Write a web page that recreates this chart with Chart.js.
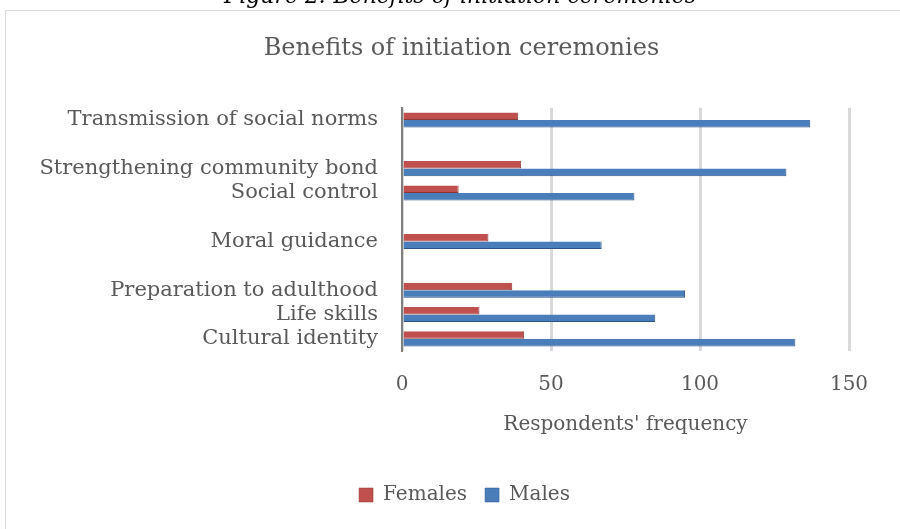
<!DOCTYPE html>
<html>
<head>
<meta charset="utf-8">
<script src="https://cdn.jsdelivr.net/npm/chart.js@4.4.0/dist/chart.umd.min.js"></script>
<style>
  body { margin: 0; background: #fff; overflow: hidden; }
  #wrap { position: relative; width: 900px; height: 529px; }
  #caption {
    position: absolute; top: -17px; left: 0; width: 920px; text-align: center;
    font-family: "DejaVu Serif", serif; font-style: italic; font-size: 22px; color: #000;
  }
  canvas { position: absolute; left: 0; top: 0; }
</style>
</head>
<body>
<div id="wrap">
  <canvas id="chart" width="900" height="529"></canvas>
  <div id="caption">Figure 2: Benefits of initiation ceremonies</div>
</div>
<script>
// categories top to bottom, blank slots are empty rows in the original sheet
var categories = ['Transmission of social norms', '', 'Strengthening community bond', 'Social control', '',
    'Moral guidance', '', 'Preparation to adulthood', 'Life skills', 'Cultural identity'];
var females = [39, null, 40, 19, null, 29, null, 37, 26, 41];
var males = [137, null, 129, 78, null, 67, null, 95, 85, 132];
var xTicks = [0, 50, 100, 150];

var fontFamily = '"DejaVu Serif", serif';
var textColor = '#595959';

var boxPlugin = {
    id: 'box',
    beforeDraw: function(chart) {
        var ctx = chart.ctx;
        ctx.save();
        ctx.fillStyle = '#ffffff';
        ctx.fillRect(0, 0, chart.width, chart.height);
        ctx.strokeStyle = '#d9d9d9';
        ctx.lineWidth = 1;
        ctx.strokeRect(5.5, 10.5, 900, 530);
        ctx.restore();
    }
};

// title and legend sit centred on the whole box, not on the plot
var shiftPlugin = {
    id: 'shift',
    afterLayout: function(chart) {
        if (chart.titleBlock) {
            chart.titleBlock.left += 37;
            chart.titleBlock.right += 37;
        }
        if (chart.legend) {
            chart.legend.left += 40;
            chart.legend.right += 40;
        }
    }
};

var data = {
    labels: categories,
    datasets: [{
        label: 'Females',
        data: females,
        backgroundColor: '#c0504d',
        borderColor: '#8c3836',
        borderWidth: { right: 1, top: 0, bottom: 1, left: 0 },
        categoryPercentage: 0.62,
        barPercentage: 1.0
    }, {
        label: 'Males',
        data: males,
        backgroundColor: '#4a7ebb',
        borderColor: '#2c5382',
        borderWidth: { right: 1, top: 0, bottom: 1, left: 0 },
        categoryPercentage: 0.62,
        barPercentage: 1.0
    }]
};

var options = {
    indexAxis: 'y',
    responsive: false,
    animation: false,
    layout: {
        padding: { left: 0, right: 51, top: 10, bottom: 14 }
    },
    plugins: {
        title: {
            display: true,
            text: 'Benefits of initiation ceremonies',
            color: textColor,
            font: { family: fontFamily, size: 24, weight: 'normal' },
            padding: { top: 24, bottom: 45 }
        },
        legend: {
            position: 'bottom',
            labels: {
                color: textColor,
                font: { family: fontFamily, size: 20 },
                boxWidth: 14,
                boxHeight: 14,
                padding: 18
            }
        },
        tooltip: { enabled: false }
    },
    scales: {
        y: {
            type: 'category',
            grid: { display: false, drawTicks: false },
            border: { display: true, color: '#7f7f7f', width: 2 },
            ticks: {
                color: textColor,
                font: { family: fontFamily, size: 21 },
                padding: 24,
                autoSkip: false
            },
            afterFit: function(scale) {
                scale.width = 402;
            }
        },
        x: {
            min: 0,
            max: 150,
            afterBuildTicks: function(scale) {
                scale.ticks = xTicks.map(function(v) { return { value: v }; });
            },
            grid: { color: '#d9d9d9', lineWidth: 3, drawTicks: false },
            border: { display: false },
            ticks: {
                color: textColor,
                font: { family: fontFamily, size: 20 },
                padding: 22
            },
            title: {
                display: true,
                text: "Respondents' frequency",
                color: textColor,
                font: { family: fontFamily, size: 20 },
                padding: { top: 0, bottom: 30 }
            },
            afterFit: function(scale) {
                scale.height = 116;
            }
        }
    }
};

var chart = new Chart(document.getElementById('chart').getContext('2d'), {
    type: 'bar',
    data: data,
    options: options,
    plugins: [boxPlugin, shiftPlugin]
});
</script>
</body>
</html>
